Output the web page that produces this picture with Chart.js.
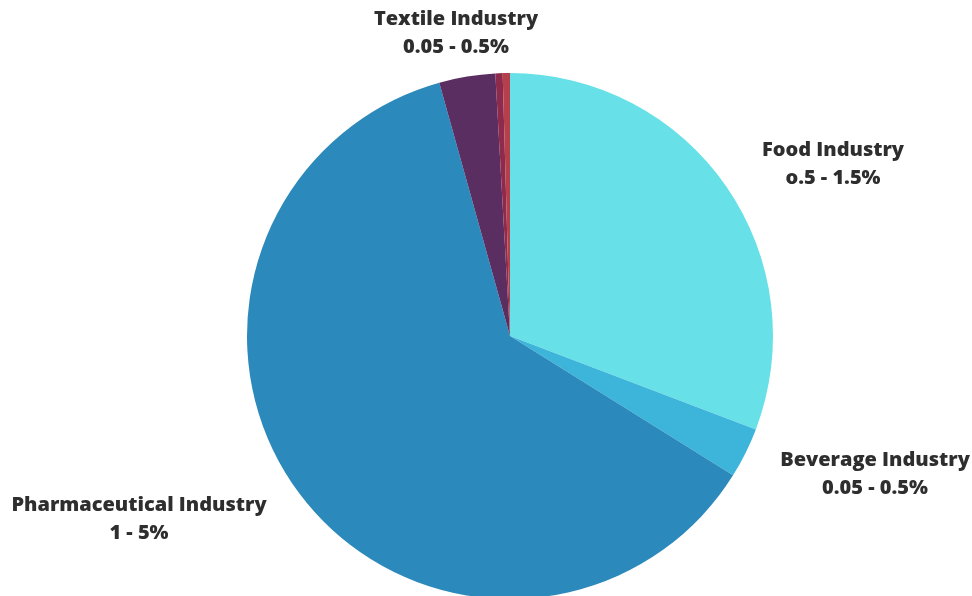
<!DOCTYPE html>
<html lang="en">
  <head>
    <meta charset="UTF-8" />
    <title>Industry Shares</title>
    <script src="https://cdn.jsdelivr.net/npm/chart.js"></script>
    <style>
      html, body { margin: 0; padding: 0; background: #fff; overflow: hidden; }
      .chart-card { width: 972px; height: 620px; }
    </style>
  </head>
  <body>
    <div class="chart-card">
      <canvas id="pieChart"></canvas>
    </div>

    <script>
      // slice names, clockwise from 12 o'clock
      const categories = ['Food Industry', 'Beverage Industry', 'Pharmaceutical Industry', 'Textile Industry', 'Other A', 'Other B'];
      // slice sizes (degrees of arc)
      const values = [110.8, 11.2, 222.4, 12.4, 1.6, 1.6];
      const colors = ['#67e1e7', '#3db4d9', '#2c89bc', '#5b2e62', '#8e2a4c', '#b5404c'];

      // label text shown next to the pie
      const labelLines = [
        ['Food Industry', 'o.5 - 1.5%'],
        ['Beverage Industry', '0.05 - 0.5%'],
        ['Pharmaceutical Industry', '1 - 5%'],
        ['Textile Industry', '0.05 - 0.5%']
      ];

      // where each label sits, relative to the pie centre
      const labelOffsets = [[323, -186], [365, 124], [-371, 169], [-54, -317]];

      const labelPlugin = {
        id: 'sliceLabels',
        afterDraw(chart) {
          const arc = chart.getDatasetMeta(0).data[0];
          const ctx = chart.ctx;
          ctx.save();
          ctx.font = '800 20px "Open Sans"';
          ctx.fillStyle = '#2e2e2e';
          ctx.textAlign = 'center';
          ctx.textBaseline = 'middle';
          labelLines.forEach((lines, i) => {
            const x = arc.x + labelOffsets[i][0];
            const y = arc.y + labelOffsets[i][1];
            ctx.fillText(lines[0], x, y);
            ctx.fillText(lines[1], x, y + 28);
          });
          ctx.restore();
        }
      };

      new Chart(document.getElementById('pieChart').getContext('2d'), {
        type: 'pie',
        data: {
          labels: categories,
          datasets: [{
            data: values,
            backgroundColor: colors,
            borderWidth: 0
          }]
        },
        options: {
          responsive: true,
          maintainAspectRatio: false,
          animation: false,
          layout: { padding: { left: 247, right: 199, top: 73, bottom: 21 } },
          plugins: {
            legend: { display: false },
            tooltip: { enabled: false }
          }
        },
        plugins: [labelPlugin]
      });
    </script>
  </body>
</html>
